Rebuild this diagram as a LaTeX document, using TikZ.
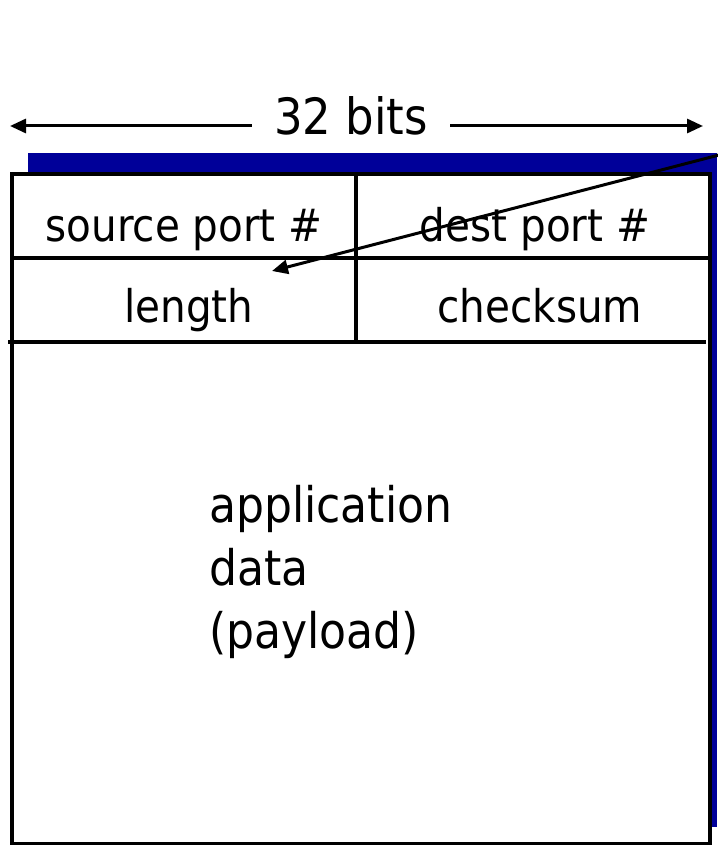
\documentclass[tikz,border=0pt]{standalone}
\usepackage{fontspec}
\setmainfont{DejaVu Sans Condensed}
\usetikzlibrary{arrows.meta}
\definecolor{shadowblue}{RGB}{0,0,153}
\begin{document}
\begin{tikzpicture}[x=1pt,y=-1pt,
  lbl/.style={font=\fontsize{45}{63}\selectfont, inner sep=0pt, anchor=base},
  big/.style={font=\fontsize{49}{63}\selectfont, inner sep=0pt},
  frame/.style={line width=4.5pt, draw=black},
  tip/.style={-{Triangle[length=16pt,width=14pt]}, line width=3pt}]
\useasboundingbox (0,0) rectangle (717,845);
% blue shadow
\fill[shadowblue] (28,153) rectangle (717,827);
% main box
\draw[frame, fill=white] (12,174) rectangle (710,844);
\draw[frame] (12,258) -- (710,258);
\draw[frame] (8,342) -- (706,342);
\draw[line width=3.5pt] (356,174) -- (356,342);
% field labels
\node[lbl] (src) at (184,241) {source port \#};
\node[lbl] (dst) at (535,241) {dest port \#};
\node[lbl] (len) at (189,322) {length};
\node[lbl] (chk) at (540,322) {checksum};
\node[big, anchor=base west, align=left] (app) at (209,648) {application\\data\\(payload)};
% 32 bits arrow
\node[big, font=\fontsize{50}{63}\selectfont, anchor=base, inner xsep=22pt] (bits) at (351,135) {32 bits};
\coordinate (bl) at (10,126);
\coordinate (br) at (703,126);
\draw[tip] (bits.west |- bl) -- (bl);
\draw[tip] (bits.east |- br) -- (br);
% pointer arrow
\coordinate (ps) at (719,155);
\coordinate (pe) at (272,271);
\draw[tip] (ps) -- (pe);
\end{tikzpicture}
\end{document}
